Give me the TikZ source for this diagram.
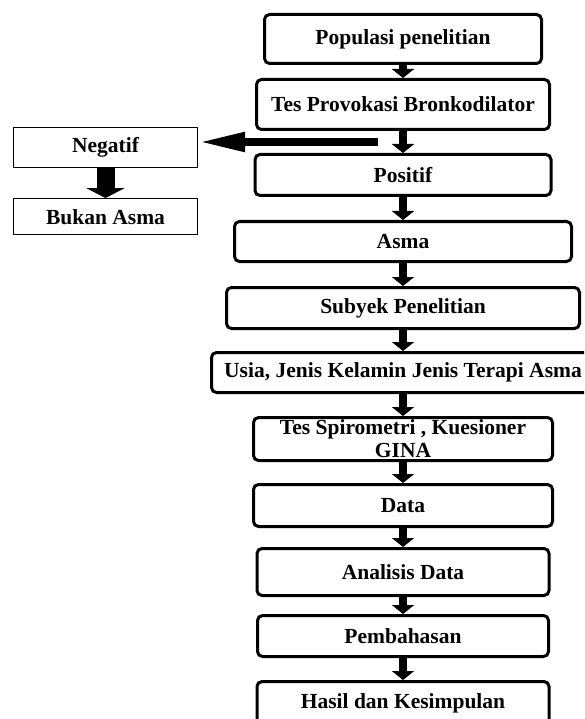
\documentclass[tikz,border=0pt]{standalone}
\usepackage{fontspec}
\setmainfont{Liberation Serif}
\usetikzlibrary{positioning,arrows.meta}

\begin{document}
\begin{tikzpicture}[x=1pt,y=-1pt]
% Alur penelitian
   \clip (0,0) rectangle (584,719);
   \begin{scope}[font=\fontsize{21.5}{23}\selectfont\bfseries,
                   stage/.style={rectangle,draw,line width=3pt,rounded corners=5pt,inner sep=0pt,align=center},
                   side/.style={rectangle,draw,line width=1.2pt,inner sep=0pt},
                   feed/.style={line width=8pt,arrows={Triangle[length=9pt,width=22pt]-}},
                   drop/.style={line width=18pt,arrows={-Triangle[length=10pt,width=38pt]}},
                   reject/.style={line width=8pt,arrows={-Triangle[length=47pt,width=18pt]}} ]
     \node [stage,minimum width=277pt,minimum height=49pt] (pop) at (403,39) {Populasi penelitian};
     \node [stage,minimum width=293pt,minimum height=50pt] (prov) [below=13pt of pop] {Tes Provokasi Bronkodilator} edge [feed] (pop);
     \node [stage,minimum width=296pt,minimum height=41pt] (pos)  [below=22pt of prov] {Positif} edge [feed] (prov);
     \node [stage,minimum width=337pt,minimum height=40pt] (asma) [below=23pt of pos]  {Asma} edge [feed] (pos);
     \node [stage,minimum width=353pt,minimum height=41pt] (subj) [below=23pt of asma] {Subyek Penelitian} edge [feed] (asma);
     \node [stage,minimum width=383pt,minimum height=40pt] (usia) [below=21pt of subj] {Usia, Jenis Kelamin Jenis Terapi Asma} edge [feed] (subj);
     \node [stage,minimum width=299pt,minimum height=43pt] (spiro) [below=22pt of usia] {Tes Spirometri , Kuesioner\\GINA} edge [feed] (usia);
     \node [stage,minimum width=299pt,minimum height=42pt] (data) [below=21pt of spiro] {Data} edge [feed] (spiro);
     \node [stage,minimum width=292pt,minimum height=47pt] (anal) [below=19pt of data] {Analisis Data} edge [feed] (data);
     \node [stage,minimum width=291pt,minimum height=41pt] (bahas) [below=17pt of anal] {Pembahasan} edge [feed] (anal);
     \node [stage,minimum width=292pt,minimum height=44pt] (hasil) [below=22pt of bahas] {Hasil dan Kesimpulan} edge [feed] (bahas);
     % cabang negatif
     \node [side,minimum width=184pt,minimum height=40pt] (neg) at (105.5,147.5) {Negatif};
     \node [side,minimum width=184pt,minimum height=36pt] (nonasma) [below=30pt of neg] {Bukan Asma};
     \coordinate (gate) at (378,142);
     \draw [reject] (gate) -- (gate -| neg.east);
     \draw [drop] (neg) -- (nonasma);
   \end{scope}
\end{tikzpicture}
\end{document}
